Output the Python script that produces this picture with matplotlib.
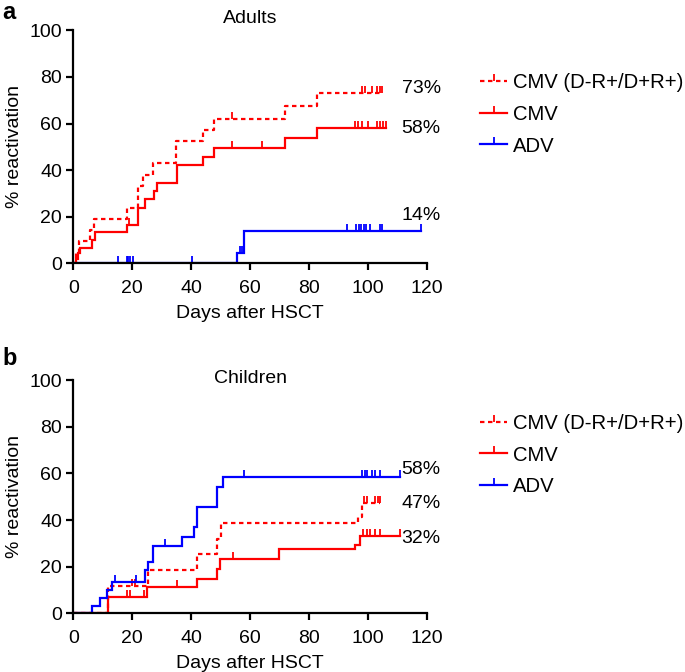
import numpy as np
import matplotlib
matplotlib.use('Agg')
import matplotlib.pyplot as plt
from matplotlib.lines import Line2D

plt.rcParams['font.family'] = ['Liberation Sans', 'DejaVu Sans']

# ---- Adults (panel a) ----
adult_dr_days = [0.9, 1.9, 5.8, 7.1, 18.1, 22.1, 23.8, 27.2, 34.9, 44.0, 47.9, 72.0, 82.9]
adult_dr_pct = [4.8, 9.5, 14.3, 19.0, 23.8, 33.3, 38.1, 42.9, 52.4, 57.1, 61.9, 67.4, 72.9]
adult_dr_censor = [54.0, 97.9, 99.1, 101.4, 103.0, 104.1]
adult_dr_end = 104.7

adult_cmv_days = [0.9, 1.7, 2.3, 6.2, 7.4, 18.3, 22.1, 24.4, 27.5, 28.3, 35.1, 44.0, 47.9, 72.0, 82.9]
adult_cmv_pct = [2.1, 4.3, 6.7, 10.0, 13.4, 16.4, 23.8, 27.6, 31.0, 34.7, 42.1, 45.7, 49.3, 53.6, 57.9]
adult_cmv_censor = [19.0, 54.0, 64.0, 95.7, 96.8, 97.9, 100.2, 103.0, 104.1, 105.3]
adult_cmv_end = 106.2

adult_adv_days = [55.7, 57.8]
adult_adv_pct = [4.3, 13.9]
adult_adv_censor = [15.3, 18.1, 18.7, 19.3, 20.2, 40.2, 56.6, 57.2, 92.9, 96.0, 96.9,
                    97.7, 98.6, 99.5, 100.6, 104.0, 104.9]
adult_adv_end = 118.0

# ---- Children (panel b) ----
child_dr_days = [11.9, 25.3, 42.1, 48.9, 50.3, 96.8, 98.0]
child_dr_pct = [11.8, 18.6, 25.4, 31.7, 38.8, 41.4, 47.4]
child_dr_censor = [19.8, 20.8, 98.6, 99.6, 102.4, 103.5]
child_dr_end = 104.2

child_cmv_days = [11.9, 25.0, 41.9, 48.9, 49.9, 70.0, 95.7, 97.4]
child_cmv_pct = [6.9, 11.1, 14.7, 18.8, 23.1, 27.4, 29.3, 33.3]
child_cmv_censor = [18.1, 19.3, 24.0, 35.1, 54.1, 98.5, 99.6, 100.8, 102.4, 104.1]
child_cmv_end = 111.0

child_adv_days = [6.2, 9.1, 11.3, 13.0, 24.4, 25.3, 27.2, 37.0, 41.1, 41.9, 48.9, 50.9]
child_adv_pct = [3.1, 6.7, 10.0, 13.6, 18.6, 22.1, 28.8, 32.8, 37.1, 45.7, 54.0, 58.3]
child_adv_censor = [14.2, 21.2, 31.1, 58.0, 98.0, 99.1, 99.7, 101.4, 102.5, 104.1]
child_adv_end = 111.0

series_labels = ['CMV (D-R+/D+R+)', 'CMV', 'ADV']
adult_final_labels = ['73%', '58%', '14%']
adult_label_y = [75, 58, 20.5]
child_final_labels = ['58%', '47%', '32%']
child_label_y = [61.5, 47.3, 32.3]

RED = '#ff0000'
BLUE = '#0000ff'
DASH = (0, (2.0, 1.6))
LW = 1.6
FS = 14


def km_curve(ax, days, pct, censor, end, color, ls):
    x = np.concatenate([[0], days, [end]])
    y = np.concatenate([[0], pct, [pct[-1]]])
    ax.step(x, y, where='post', color=color, lw=LW, linestyle=ls, solid_joinstyle='miter')
    # censor ticks sit on the curve
    idx = np.searchsorted(x, censor, side='right') - 1
    cx = list(censor) + [end]
    cy = list(y[idx]) + [pct[-1]]
    ax.plot(cx, cy, linestyle='none', marker=2, markersize=5, markeredgewidth=1.3,
            color=color)


def style_axes(ax):
    ax.set_xlim(0, 120)
    ax.set_ylim(0, 100)
    ax.set_xticks(np.arange(0, 121, 20))
    ax.set_yticks(np.arange(0, 101, 20))
    for s in ['top', 'right']:
        ax.spines[s].set_visible(False)
    for s in ['left', 'bottom']:
        ax.spines[s].set_linewidth(1.6)
    ax.tick_params(direction='out', length=5, width=1.6, labelsize=FS, pad=3)
    ax.tick_params(axis='x', pad=7)
    ax.set_xlabel('Days after HSCT', fontsize=FS, labelpad=6)
    ax.set_ylabel('% reactivation', fontsize=FS, labelpad=5)


def legend(ax, y_top):
    handles = [
        Line2D([], [], color=RED, lw=LW, linestyle=DASH, marker=2, markersize=5, markeredgewidth=1.3),
        Line2D([], [], color=RED, lw=LW, marker=2, markersize=5, markeredgewidth=1.3),
        Line2D([], [], color=BLUE, lw=LW, marker=2, markersize=5, markeredgewidth=1.3),
    ]
    ax.legend(handles, series_labels, loc='upper left', bbox_to_anchor=(1.151, y_top),
              frameon=False, fontsize=14.6, numpoints=1, handlelength=1.33,
              handletextpad=0.3, labelspacing=0.62, borderaxespad=0, borderpad=0)


fig = plt.figure(figsize=(6.85, 6.72), dpi=100)
ax1 = fig.add_axes([0.107, 0.608, 0.516, 0.347])
ax2 = fig.add_axes([0.107, 0.0873, 0.516, 0.347])

km_curve(ax1, adult_adv_days, adult_adv_pct, adult_adv_censor, adult_adv_end, BLUE, '-')
km_curve(ax1, adult_cmv_days, adult_cmv_pct, adult_cmv_censor, adult_cmv_end, RED, '-')
km_curve(ax1, adult_dr_days, adult_dr_pct, adult_dr_censor, adult_dr_end, RED, DASH)

km_curve(ax2, child_cmv_days, child_cmv_pct, child_cmv_censor, child_cmv_end, RED, '-')
km_curve(ax2, child_dr_days, child_dr_pct, child_dr_censor, child_dr_end, RED, DASH)
km_curve(ax2, child_adv_days, child_adv_pct, child_adv_censor, child_adv_end, BLUE, '-')

for ax in (ax1, ax2):
    style_axes(ax)

for lab, yv in zip(adult_final_labels, adult_label_y):
    ax1.text(111.5, yv, lab, fontsize=FS, va='center', ha='left', clip_on=False)
for lab, yv in zip(child_final_labels, child_label_y):
    ax2.text(111.5, yv, lab, fontsize=FS, va='center', ha='left', clip_on=False)

ax1.text(0.5, 1.052, 'Adults', transform=ax1.transAxes, ha='center', va='center', fontsize=FS)
ax2.text(0.5, 1.009, 'Children', transform=ax2.transAxes, ha='center', va='center', fontsize=FS)

legend(ax1, 0.815)
legend(ax2, 0.855)

fig.text(0.003, 0.998, 'a', fontsize=17, fontweight='bold', ha='left', va='top')
fig.text(0.003, 0.484, 'b', fontsize=17, fontweight='bold', ha='left', va='top')

fig.savefig('out.png', dpi=100)
